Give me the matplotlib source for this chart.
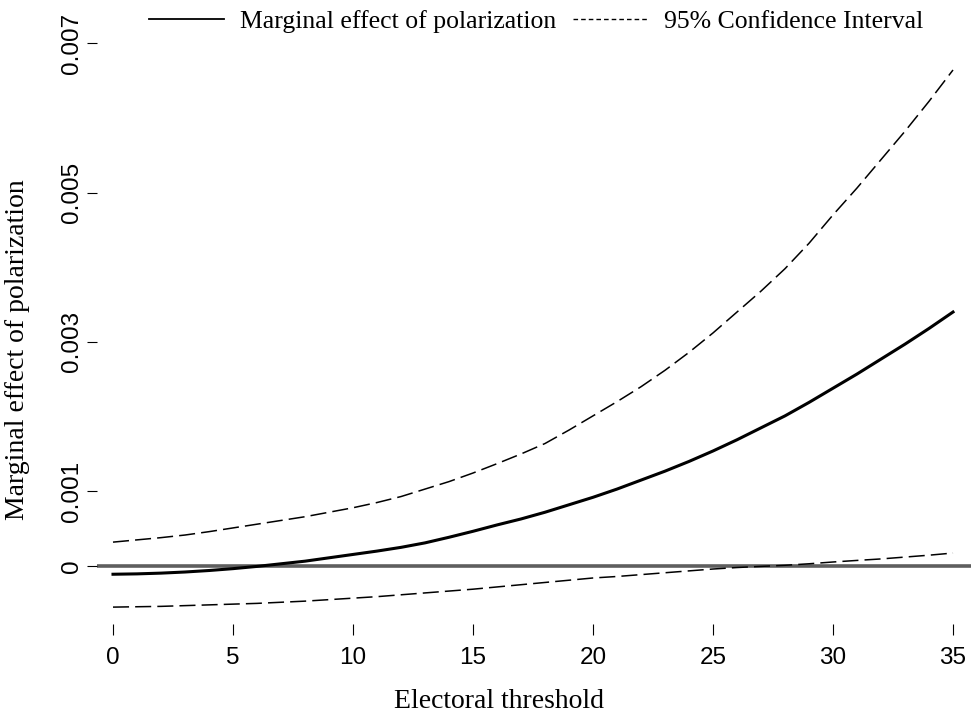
import matplotlib
matplotlib.use("Agg")
import matplotlib.pyplot as plt
from matplotlib.lines import Line2D

# electoral threshold (x) and marginal effect estimates
threshold = list(range(0, 36))

effect = [-0.000110, -0.000105, -0.000095, -0.000080, -0.000060, -0.000035,
          -0.000005, 0.000030, 0.000065, 0.000110, 0.000155, 0.000200,
          0.000250, 0.000310, 0.000385, 0.000465, 0.000550, 0.000630,
          0.000720, 0.000820, 0.000920, 0.001030, 0.001150, 0.001270,
          0.001400, 0.001540, 0.001690, 0.001850, 0.002010, 0.002190,
          0.002380, 0.002570, 0.002770, 0.002970, 0.003180, 0.003400]

ci_upper = [0.000320, 0.000350, 0.000380, 0.000415, 0.000460, 0.000510,
            0.000560, 0.000610, 0.000660, 0.000720, 0.000780, 0.000850,
            0.000930, 0.001030, 0.001130, 0.001245, 0.001370, 0.001500,
            0.001640, 0.001820, 0.002010, 0.002200, 0.002400, 0.002620,
            0.002860, 0.003120, 0.003400, 0.003680, 0.003980, 0.004320,
            0.004700, 0.005060, 0.005440, 0.005820, 0.006220, 0.006640]

ci_lower = [-0.000550, -0.000545, -0.000540, -0.000530, -0.000520, -0.000510,
            -0.000500, -0.000485, -0.000470, -0.000450, -0.000430, -0.000410,
            -0.000385, -0.000360, -0.000335, -0.000310, -0.000280, -0.000250,
            -0.000220, -0.000190, -0.000160, -0.000140, -0.000115, -0.000090,
            -0.000065, -0.000040, -0.000020, -0.000005, 0.000010, 0.000030,
            0.000054, 0.000075, 0.000095, 0.000120, 0.000145, 0.000174]

xticks = [0, 5, 10, 15, 20, 25, 30, 35]
yticks = [0, 0.001, 0.003, 0.005, 0.007]
ytick_labels = ["0", "0.001", "0.003", "0.005", "0.007"]

serif = "Liberation Serif"
sans = "Liberation Sans"

fig = plt.figure(figsize=(9.71, 7.13), dpi=100)
ax = fig.add_axes([97 / 971, 89 / 713, 874 / 971, 609 / 713])

ax.axhline(0, color="#5e5e5e", lw=2.6, zorder=1)
ax.plot(threshold, effect, color="black", lw=2.2, zorder=3)
ax.plot(threshold, ci_upper, color="black", lw=1.1, dashes=(10.5, 4), zorder=2)
ax.plot(threshold, ci_lower, color="black", lw=1.1, dashes=(10.5, 4), zorder=2)

ax.set_xlim(-0.667, 35.75)
ax.set_ylim(-0.000776, 0.007376)

for s in ax.spines.values():
    s.set_visible(False)

ax.set_xticks(xticks)
ax.set_xticklabels([str(t) for t in xticks], fontfamily=sans, fontsize=17.5)
ax.set_yticks(yticks)
ax.set_yticklabels(ytick_labels, fontfamily=sans, fontsize=17.5)
ax.tick_params(axis="x", length=8, width=0.8, pad=8.5)
ax.tick_params(axis="y", length=7, width=0.8, pad=3, labelrotation=90)
for lab in ax.get_yticklabels():
    lab.set_va("center")
    lab.set_ha("right")

fig.text(498.5 / 971, 5 / 713, "Electoral threshold", family=serif,
         fontsize=20, ha="center", va="baseline")
fig.text(18 / 971, 1 - 350 / 713, "Marginal effect of polarization",
         family=serif, fontsize=20, rotation=90, ha="center", va="center")

handles = [Line2D([], [], color="black", lw=1.3),
           Line2D([], [], color="black", lw=1.0, dashes=(3.3, 2.2))]
fig.legend(handles, ["Marginal effect of polarization", "95% Confidence Interval"],
           loc="center", bbox_to_anchor=(536 / 971, 1 - 22 / 713), ncol=2,
           frameon=False, prop={"family": serif, "size": 18.5},
           handlelength=2.95, handletextpad=0.6, columnspacing=0.65,
           borderpad=0, borderaxespad=0)

fig.savefig("out.png", dpi=100)
